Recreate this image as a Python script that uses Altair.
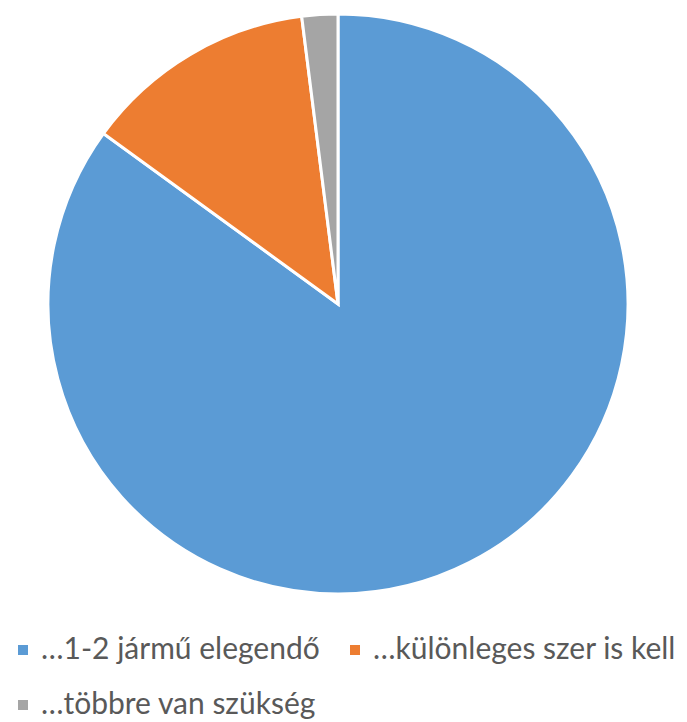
import altair as alt
import pandas as pd

categories = ["…1-2 jármű elegendő", "…különleges szer is kell", "…többre van szükség"]
values = [85, 13, 2]
colors = ["#5B9BD5", "#ED7D31", "#A5A5A5"]

df = pd.DataFrame({"cat": categories, "val": values, "ord": list(range(len(categories)))})

chart = alt.Chart(df).mark_arc(radius=290, stroke="white", strokeWidth=3).encode(
    theta=alt.Theta("val:Q", stack=True),
    order=alt.Order("ord:Q"),
    color=alt.Color(
        "cat:N",
        sort=categories,
        scale=alt.Scale(domain=categories, range=colors),
        legend=alt.Legend(
            title=None,
            orient="none",
            legendX=0,
            legendY=621,
            direction="horizontal",
            columns=2,
            symbolType="square",
            symbolSize=100,
            symbolStrokeWidth=0,
            symbolOffset=0,
            labelFont="Lato",
            labelFontSize=30,
            labelColor="#595959",
            labelOffset=3,
            labelLimit=400,
            columnPadding=20,
            rowPadding=25,
        ),
    ),
).properties(width=660, height=580).configure_view(stroke=None).configure(padding=0)

chart.save("out.html", embed_options={"renderer": "svg", "actions": False})
